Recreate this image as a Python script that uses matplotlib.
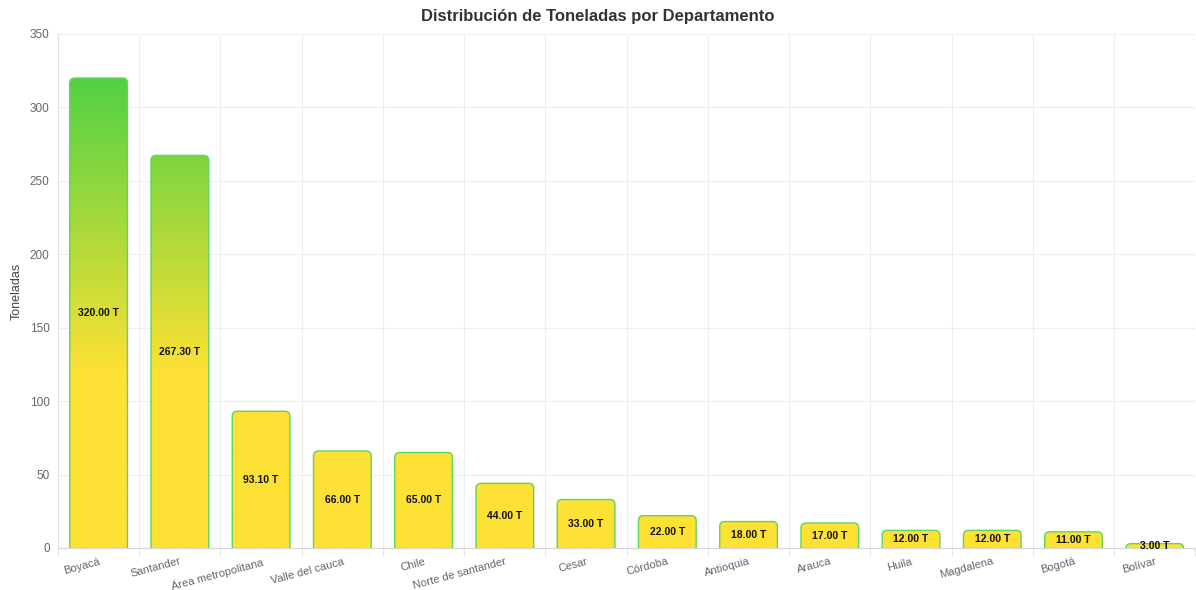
import numpy as np
import matplotlib
matplotlib.use("Agg")
import matplotlib.pyplot as plt
from matplotlib.colors import LinearSegmentedColormap
from matplotlib.patches import FancyBboxPatch

departamentos = ["Boyacá", "Santander", "Área metropolitana", "Valle del cauca", "Chile",
                 "Norte de santander", "Cesar", "Córdoba", "Antioquia", "Arauca",
                 "Huila", "Magdalena", "Bogotá", "Bolívar"]
toneladas = [320.00, 267.30, 93.10, 66.00, 65.00, 44.00, 33.00, 22.00,
             18.00, 17.00, 12.00, 12.00, 11.00, 3.00]

plt.rcParams['font.family'] = ['Liberation Sans', 'DejaVu Sans']

fig = plt.figure(figsize=(11.96, 5.9), dpi=100)
ax = fig.add_axes([0.0485, 0.0712, 0.951, 0.8712])

n = len(departamentos)
x = np.arange(n)
ax.set_xlim(-0.5, n - 0.5)
ax.set_ylim(0, 350)

# green at the top fading to yellow around 120 T
grad_lo, grad_hi = 120, 335
yy = np.linspace(0, 350, 400)
grad = np.clip((yy - grad_lo) / (grad_hi - grad_lo), 0, 1)[:, None]
cmap = LinearSegmentedColormap.from_list("gy", ["#fde134", "#44d044"])

width = 0.71
bars = ax.bar(x, toneladas, width=width, color="none", edgecolor="none", zorder=2)
for b in bars:
    x0, h = b.get_x(), b.get_height()
    # square bottom (hidden below axis), rounded top
    patch = FancyBboxPatch((x0, -6), width, h + 6,
                           boxstyle="round,pad=0,rounding_size=0.06",
                           mutation_aspect=350 / 514 * 81.4,
                           facecolor="none", edgecolor="#5cd65c", linewidth=1.0,
                           zorder=3, clip_on=True)
    ax.add_patch(patch)
    im = ax.imshow(grad, cmap=cmap, vmin=0, vmax=1, origin="lower",
                   extent=[-0.5, n - 0.5, 0, 350], aspect="auto", zorder=2,
                   interpolation="bilinear")
    im.set_clip_path(patch)

for xi, v in zip(x, toneladas):
    ax.text(xi, v / 2, f"{v:.2f} T", ha="center", va="center",
            fontsize=7.5, fontweight="bold", color="#111111", zorder=4)

ax.set_yticks(np.arange(0, 351, 50))
ax.set_xticks(np.arange(-0.5, n, 1), minor=False)
ax.set_xticklabels([])
ax.set_xticks(x, minor=True)
ax.set_xticklabels(departamentos, minor=True, rotation=15, ha="right",
                   rotation_mode="anchor", fontsize=8, color="#666666")
ax.tick_params(axis="x", which="minor", length=0, pad=6)
ax.tick_params(axis="x", which="major", length=6, color="#e6e6e6")
ax.tick_params(axis="y", length=0, labelsize=8.5, labelcolor="#666666", pad=6)

ax.grid(True, which="major", color="#eeeeee", linewidth=0.8, zorder=0)
ax.set_axisbelow(True)
for s in ["top", "right"]:
    ax.spines[s].set_visible(False)
ax.spines["left"].set_color("#e0e0e0")
ax.spines["bottom"].set_color("#d6d6d6")

ax.set_ylabel("Toneladas", fontsize=9, color="#444444", labelpad=5)
fig.text(0.5, 0.972, "Distribución de Toneladas por Departamento", ha="center",
         va="center", fontsize=12, fontweight="bold", color="#333333")

fig.savefig("out.png", dpi=100)
